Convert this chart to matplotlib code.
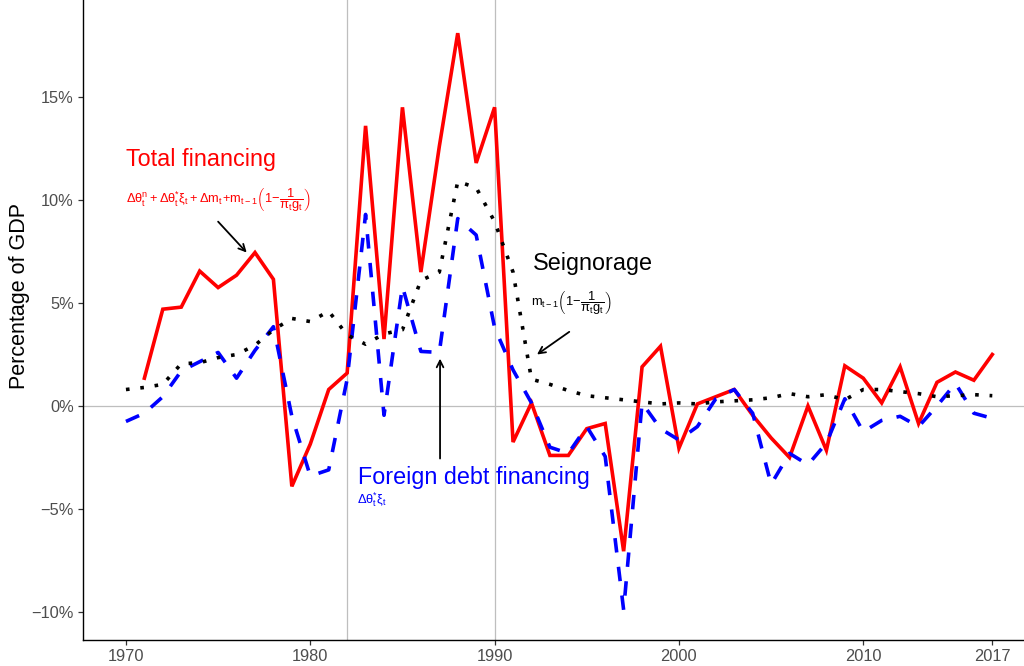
import numpy as np
import matplotlib
matplotlib.use("Agg")
import matplotlib.pyplot as plt
from matplotlib.ticker import FuncFormatter

# ------------------------------------------------------------
# Data (percentage of GDP)
# ------------------------------------------------------------
years = list(range(1970, 2018))

total_financing = [
    np.nan, 1.35, 4.7, 4.8, 6.55, 5.75, 6.35, 7.45, 6.15, -3.9,
    -1.85, 0.8, 1.6, 13.6, 3.25, 14.5, 6.5, 12.6, 18.1, 11.8,
    14.5, -1.75, 0.15, -2.4, -2.4, -1.1, -0.85, -7.05, 1.9, 2.9,
    -2.05, 0.1, 0.45, 0.8, -0.45, -1.55, -2.5, 0.0, -2.15, 1.95,
    1.35, 0.15, 1.9, -0.85, 1.15, 1.65, 1.25, 2.5,
]

foreign_debt = [
    -0.75, -0.35, 0.45, 1.7, 2.15, 2.6, 1.35, 2.7, 3.85, -0.5,
    -3.4, -3.1, 1.3, 9.3, -0.45, 5.8, 2.65, 2.6, 9.1, 8.3,
    3.8, 1.75, 0.15, -2.0, -2.3, -1.0, -2.45, -9.9, 0.15, -1.1,
    -1.65, -1.0, 0.35, 0.8, -0.35, -3.8, -2.3, -2.85, -1.8, 0.35,
    -1.25, -0.7, -0.5, -1.0, 0.0, 1.1, -0.35, -0.6,
]

seignorage = [
    0.8, 0.9, 1.05, 2.05, 2.1, 2.35, 2.5, 2.95, 3.7, 4.25,
    4.1, 4.6, 3.45, 3.0, 3.5, 3.7, 6.1, 6.5, 10.9, 10.6,
    8.95, 6.5, 1.3, 1.05, 0.75, 0.5, 0.4, 0.3, 0.2, 0.1,
    0.15, 0.1, 0.2, 0.25, 0.3, 0.4, 0.6, 0.45, 0.55, 0.3,
    0.8, 0.8, 0.7, 0.6, 0.45, 0.5, 0.55, 0.5,
]

marker_years = [1982, 1990]
x_ticks = [1970, 1980, 1990, 2000, 2010, 2017]
y_ticks = [-10, -5, 0, 5, 10, 15]

# ------------------------------------------------------------
# Style
# ------------------------------------------------------------
plt.rcParams['font.family'] = ['Liberation Sans', 'DejaVu Sans']
plt.rcParams['mathtext.fontset'] = 'custom'
plt.rcParams['mathtext.rm'] = 'Liberation Sans'
plt.rcParams['mathtext.it'] = 'Liberation Sans'
plt.rcParams['mathtext.bf'] = 'Liberation Sans:bold'
plt.rcParams['mathtext.default'] = 'regular'

fig = plt.figure(figsize=(10.24, 6.66), dpi=100)
ax = fig.add_axes([83 / 1024, 26 / 666, (1024 - 83) / 1024, 640 / 666])

# reference lines
ax.axhline(0, color='#BEBEBE', lw=0.9, zorder=1)
for yr in marker_years:
    ax.axvline(yr, color='#BEBEBE', lw=0.9, zorder=1)

# series
ax.plot(years, total_financing, color='#FF0000', lw=2.6, zorder=3,
        solid_joinstyle='miter')
ax.plot(years, foreign_debt, color='#0000FF', lw=2.6, zorder=4,
        linestyle=(0, (4, 4)), dash_capstyle='butt')
ax.plot(years, seignorage, color='black', lw=2.6, zorder=5,
        linestyle=(0, (1, 3)), dash_capstyle='butt')

# ------------------------------------------------------------
# Annotations
# ------------------------------------------------------------
frac = r'\left(1\!-\!\dfrac{1}{\pi_t g_t}\right)'

ax.text(1970.0, 11.95, 'Total financing', color='#FF0000', fontsize=16.8,
        ha='left', va='center')
ax.text(1970.0, 10.0,
        r'$\Delta\theta_t^n + \Delta\theta_t^{*}\xi_t + \Delta m_t\!+\!m_{t-1}' + frac + '$',
        color='#FF0000', fontsize=9.3, ha='left', va='center')
ax.annotate('', xy=(1976.55, 7.45), xytext=(1975.0, 8.95),
            arrowprops=dict(arrowstyle='->', color='black', lw=1.3,
                            mutation_scale=12, shrinkA=0, shrinkB=0))

ax.text(1992.08, 6.9, 'Seignorage', color='black', fontsize=16.8,
        ha='left', va='center')
ax.text(1992.0, 5.0, r'$m_{t-1}' + frac + '$',
        color='black', fontsize=9.3, ha='left', va='center')
ax.annotate('', xy=(1992.3, 2.5), xytext=(1994.05, 3.6),
            arrowprops=dict(arrowstyle='->', color='black', lw=1.3,
                            mutation_scale=12, shrinkA=0, shrinkB=0))

ax.text(1982.6, -3.45, 'Foreign debt financing', color='#0000FF',
        fontsize=16.8, ha='left', va='center')
ax.text(1982.55, -4.55, r'$\Delta\theta_t^{*}\xi_t$', color='#0000FF',
        fontsize=9.3, ha='left', va='center')
ax.annotate('', xy=(1987.04, 2.3), xytext=(1987.04, -2.55),
            arrowprops=dict(arrowstyle='->', color='black', lw=1.3,
                            mutation_scale=12, shrinkA=0, shrinkB=0))

# ------------------------------------------------------------
# Axes
# ------------------------------------------------------------
ax.set_xlim(1967.67, 2018.72)
ax.set_ylim(-11.36, 19.71)
ax.set_xticks(x_ticks)
ax.set_yticks(y_ticks)
ax.yaxis.set_major_formatter(
    FuncFormatter(lambda v, pos: f"{v:.0f}%".replace('-', '\u2212')))

ax.spines['top'].set_visible(False)
ax.spines['right'].set_visible(False)
ax.spines['left'].set_linewidth(1.0)
ax.spines['bottom'].set_linewidth(1.0)
ax.tick_params(axis='both', colors='#333333', labelcolor='#4D4D4D',
               labelsize=11.8, length=3.5, width=0.9, pad=3)

ax.set_ylabel('Percentage of GDP', fontsize=15.5, color='black',
              va='center', ha='center')
ax.yaxis.set_label_coords(-0.067, 0.5375)

fig.savefig('out.png', dpi=100)
